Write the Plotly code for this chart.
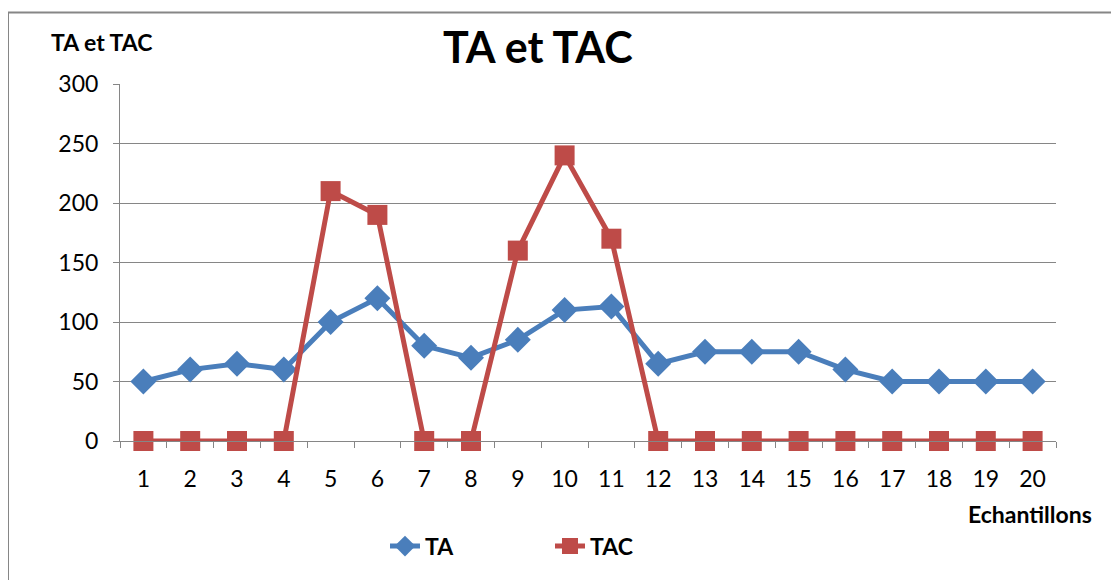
import plotly.graph_objects as go

categories = [str(i) for i in range(1, 21)]
ta = [50, 60, 65, 60, 100, 120, 80, 70, 85, 110, 113, 65, 75, 75, 75, 60, 50, 50, 50, 50]
tac = [0, 0, 0, 0, 210, 190, 0, 0, 160, 240, 170, 0, 0, 0, 0, 0, 0, 0, 0, 0]
y_ticks = [0, 50, 100, 150, 200, 250, 300]

FONT = "Lato"
OFF = 8  # page body margin
W, H = 1119 - OFF, 580 - OFF
# plot area in page pixels: x 120..1056, y 84..444
L, T = 120 - OFF, 84 - OFF
R = W - (1056 - OFF)
B = H - (444 - OFF)
pw, ph = W - L - R, H - T - B

def px(x):
    return (x - OFF - L) / pw

def py(y):
    return (H - B - (y - OFF)) / ph

fig = go.Figure()
fig.add_trace(go.Scatter(x=categories, y=ta, name="TA", mode="lines+markers",
                         line=dict(color="#4A7EBB", width=5), cliponaxis=False,
                         marker=dict(symbol="diamond", size=20, color="#4A7EBB")))
fig.add_trace(go.Scatter(x=categories, y=tac, name="TAC", mode="lines+markers",
                         line=dict(color="#BE4B48", width=5), cliponaxis=False,
                         marker=dict(symbol="square", size=20, color="#BE4B48")))

fig.update_layout(
    width=W, height=H,
    margin=dict(l=L, r=R, t=T, b=B),
    paper_bgcolor="white", plot_bgcolor="white",
    font=dict(family=FONT, size=23, color="black"),
    showlegend=True,
    legend=dict(orientation="h", x=px(385), xanchor="left", y=py(550), yanchor="middle",
                font=dict(size=23, family=FONT, color="black", weight="bold"),
                entrywidth=120, entrywidthmode="pixels", tracegroupgap=0),
    xaxis=dict(type="category", range=[-0.5, 19.5], tickson="boundaries",
               ticks="outside", ticklen=6, tickcolor="#868686", tickwidth=1,
               showline=True, linecolor="#868686", linewidth=1,
               showgrid=False, zeroline=False, tickfont=dict(size=23),
               ticklabelstandoff=17),
    yaxis=dict(range=[0, 300], tickvals=y_ticks, ticks="outside", ticklen=6,
               tickcolor="#868686", tickwidth=1,
               showline=True, linecolor="#868686", linewidth=1,
               showgrid=True, gridcolor="#868686", gridwidth=1,
               zeroline=False, tickfont=dict(size=23), ticklabelstandoff=10),
)

fig.add_annotation(text="<b>TA et TAC</b>", x=px(538), y=py(46), xref="paper", yref="paper",
                   showarrow=False, font=dict(size=43, family=FONT), xanchor="center", yanchor="middle")
fig.add_annotation(text="<b>TA et TAC</b>", x=px(101), y=py(42), xref="paper", yref="paper",
                   showarrow=False, font=dict(size=23, family=FONT), xanchor="center", yanchor="middle")
fig.add_annotation(text="<b>Echantillons</b>", x=px(1030), y=py(518), xref="paper", yref="paper",
                   showarrow=False, font=dict(size=23, family=FONT), xanchor="center", yanchor="middle")

border = dict(color="#868686", width=2)
fig.add_shape(type="line", xref="paper", yref="paper", x0=px(8), x1=px(8), y0=py(12), y1=py(600), line=border)
fig.add_shape(type="line", xref="paper", yref="paper", x0=px(8), x1=px(1125), y0=py(12), y1=py(12), line=border)

fig.write_html("out.html")
